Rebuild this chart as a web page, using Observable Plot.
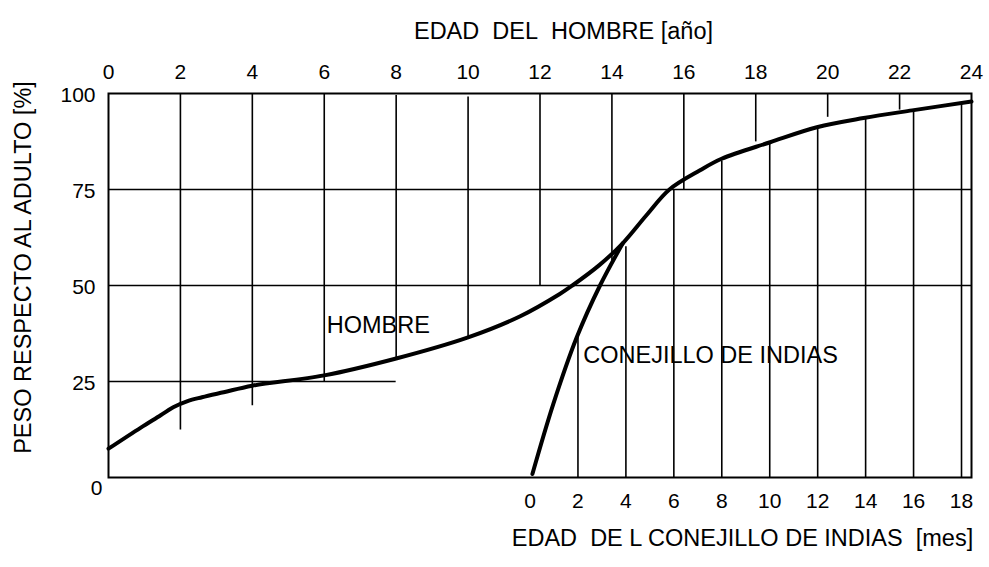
<!DOCTYPE html>
<html>
<head>
<meta charset="utf-8">
<script src="https://cdn.jsdelivr.net/npm/d3@7"></script>
<script src="https://cdn.jsdelivr.net/npm/@observablehq/plot@0.6"></script>
<style>
  html, body { margin: 0; padding: 0; background: #fff; }
  #chart svg { display: block; }
</style>
</head>
<body>
<div id="chart"></div>
<script>
// ---- Data ----
// Human growth curve: age [years] vs weight relative to adult [%]
const manAge    = [0, 0.9, 1.45, 1.8, 2.2, 2.6, 3.2, 4, 6, 8, 10, 11.45, 12.55, 12.9, 13.65, 14.3, 14.96, 15.6, 16.45, 17.05, 18.4, 19.7, 21.0, 22.35, 24];
const manWeight = [7.5, 13, 16.2, 18.3, 19.9, 20.9, 22.2, 23.9, 26.6, 31, 36.5, 42, 47.8, 50, 55.3, 61, 68.3, 75, 80, 83, 87.3, 91.2, 93.6, 95.6, 97.9];

// Guinea pig growth curve (first months; joins the common curve)
const gpMonth  = [0.1, 0.97, 1.95, 2.92, 3.87];
const gpWeight = [0.9, 19.1, 36.5, 50, 61];

// Top axis ticks (human age, years) and vertical reference lines hanging from the top
const manTicks    = [0, 2, 4, 6, 8, 10, 12, 14, 16, 18, 20, 22, 24];
const manLineAge  = [2, 4, 6, 8, 10, 12, 14, 16, 18, 20, 22];
const manLineTop  = [100, 100, 100, 99.5, 99.1, 100, 100, 100, 100, 100, 100];
const manLineEnd  = [12.4, 18.7, 25, 31, 36.7, 50, 56.3, 75, 87.4, 93.8, 95.7];

// Bottom axis ticks (guinea pig age, months) and vertical lines rising from the bottom
const gpTicks     = [0, 2, 4, 6, 8, 10, 12, 14, 16, 18];
const gpLineMonth = [2, 4, 6, 8, 10, 12, 14, 16, 18];
const gpLineEnd   = [37, 60.1, 75, 82.4, 87.3, 91, 93.6, 95.4, 97.2];

// Horizontal reference lines (weight %) and how far (years) they extend
const hLines   = [25, 50, 75];
const hLineEnd = [8, 24, 24];

// Y ticks
const yTicks = [25, 50, 75, 100];

// Texts
const topTitle    = "EDAD\u00a0 DEL\u00a0 HOMBRE [año]";
const bottomTitle = "EDAD\u00a0 DE L CONEJILLO DE INDIAS\u00a0 [mes]";
const yTitle      = "PESO RESPECTO AL ADULTO [%]";
const curveLabels = [
  {text: "HOMBRE", scale: "man", x: 6.07, y: 39.6},
  {text: "CONEJILLO DE INDIAS", scale: "gp", x: 2.22, y: 31.7}
];

// Guinea-pig months mapped onto the human-years axis (0 mo ≈ 11.72 yr, 1 mo = 2/3 yr on the drawing)
const gpOffset = 422 / 36;
const gpScale = 24 / 36;
const gpToX = m => gpOffset + gpScale * m;

// ---- Tables ----
const manData = manAge.map((a, i) => ({a, w: manWeight[i]}));
const gpData = gpMonth.map((m, i) => ({m, w: gpWeight[i]}));
const manLines = manLineAge.map((a, i) => ({a, top: manLineTop[i], end: manLineEnd[i]}));
const gpLines = gpLineMonth.map((m, i) => ({m, end: gpLineEnd[i]}));
const hData = hLines.map((y, i) => ({y, x2: hLineEnd[i]}));
const labels = curveLabels.map(d => ({...d, px: d.scale === "gp" ? gpToX(d.x) : d.x}));

const font = "'Liberation Sans', Arial, Helvetica, sans-serif";

const chart = Plot.plot({
  width: 989,
  height: 567,
  marginLeft: 108,
  marginRight: 18,
  marginTop: 93,
  marginBottom: 90,
  x: {domain: [0, 24]},
  y: {domain: [0, 100]},
  style: {fontFamily: font, fontSize: "21px", color: "#000", background: "#fff", overflow: "visible"},
  marks: [
    Plot.ruleY(hData, {y: "y", x1: 0, x2: "x2", stroke: "#000", strokeWidth: 1.7}),
    Plot.ruleX(manLines, {x: "a", y1: "end", y2: "top", stroke: "#000", strokeWidth: 1.6}),
    Plot.ruleX(gpLines, {x: d => gpToX(d.m), y1: 0, y2: "end", stroke: "#000", strokeWidth: 1.6}),
    Plot.frame({stroke: "#000", strokeWidth: 2}),
    Plot.line(manData, {x: "a", y: "w", curve: "catmull-rom", stroke: "#000", strokeWidth: 4}),
    Plot.line(gpData, {x: d => gpToX(d.m), y: "w", curve: "catmull-rom", stroke: "#000", strokeWidth: 4}),
    Plot.axisX({anchor: "top", ticks: manTicks, tickSize: 0, tickPadding: 15, label: null, fontSize: 21}),
    Plot.axisX({anchor: "bottom", ticks: gpTicks.map(gpToX), tickFormat: d => String(Math.round((d - gpOffset) / gpScale)), tickSize: 0, tickPadding: 16, label: null, fontSize: 21}),
    Plot.axisY({ticks: yTicks, tickSize: 0, tickPadding: 13, dy: 2, label: null, fontSize: 21}),
    Plot.axisY({ticks: [0], tickSize: 0, tickPadding: 6, dy: 11, label: null, fontSize: 21}),
    Plot.text(labels, {x: "px", y: "y", text: "text", textAnchor: "start", fontSize: 23.5, fill: "#000"}),
    Plot.text([topTitle], {frameAnchor: "top", dx: 23.5, dy: -71, fontSize: 23.5, fill: "#000"}),
    Plot.text([bottomTitle], {frameAnchor: "bottom", dx: 202.5, dy: 68, fontSize: 23.5, fill: "#000"}),
    Plot.text([yTitle], {frameAnchor: "left", textAnchor: "middle", rotate: -90, dx: -85, dy: -18, fontSize: 23.5, fill: "#000"})
  ]
});

document.getElementById("chart").appendChild(chart);
</script>
</body>
</html>
